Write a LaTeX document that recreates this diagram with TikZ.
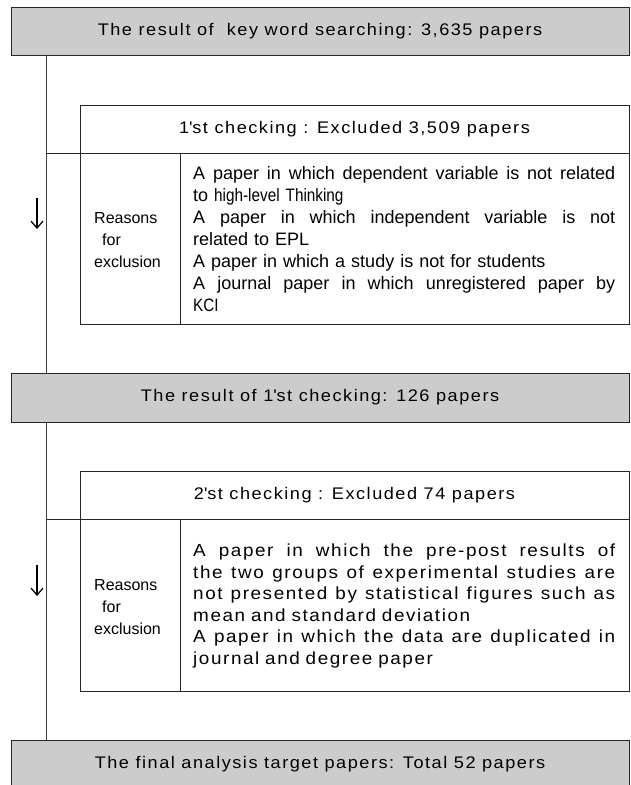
\documentclass[tikz,border=0pt]{standalone}
\usepackage{fontspec}
\setmainfont{Liberation Sans}
\newfontfamily\gulf[FakeStretch=1.08,LetterSpace=9]{Liberation Sans}
\newfontfamily\narf[FakeStretch=0.85]{Liberation Sans}
\usetikzlibrary{arrows.meta}
\tikzset{
 grayrow/.style={draw=black!85, fill=black!20, line width=1pt, minimum width=618pt, minimum height=48pt, inner sep=0pt, font=\gulf\fontsize{16.8}{19}\selectfont},
 tablebox/.style={draw=black!85, line width=1pt, minimum width=549pt, inner sep=0pt},
 rule/.style={draw=black!85, line width=1pt},
 flowline/.style={draw=black!75, line width=1pt},
 downarrow/.style={draw=black, line width=1.2pt, -{Straight Barb[length=7pt,width=12pt]}},
 headtext/.style={font=\gulf\fontsize{16.8}{19}\selectfont, inner sep=0pt},
 reasontext/.style={font=\fontsize{16}{22}\selectfont, align=left, inner sep=0pt},
 bodyone/.style={font=\fontsize{18}{22}\selectfont, align=left, text width=422pt, inner sep=0pt},
 bodytwo/.style={font=\gulf\fontsize{17.5}{21.5}\selectfont, align=left, text width=422pt, inner sep=0pt},
}
\newcommand{\jline}[1]{\leavevmode\hbox to 422pt{\spaceskip=\fontdimen2\font plus 1fil\relax #1}}
\begin{document}
\begin{tikzpicture}[x=1pt,y=-1pt]
\useasboundingbox (0,0) rectangle (630,785);
\clip (0,0) rectangle (630,785);
\coordinate (vx) at (46,0);
% gray result rows
\node[grayrow] (g1) at (320,31) {The result of \ key word searching: 3,635 papers};
\node[grayrow, minimum height=49pt] (g2) at (320,397.5) {The result of 1\textquotesingle st checking: 126 papers};
\node[grayrow] (g3) at (320,764) {The final analysis target papers: Total 52 papers};
% first checking table
\node[tablebox, minimum height=219pt] (w1) at (354.5,214.5) {};
\coordinate (h1) at (46,153);
\coordinate (d1) at (180,153);
\draw[rule] (h1) -- (h1 -| w1.east);
\draw[rule] (d1) -- (d1 |- w1.south);
\node[headtext] (t1) at (354.5,129) {1\textquotesingle st checking : Excluded 3,509 papers};
\node[reasontext, anchor=west] (r1) at (94,240) {Reasons\\\hspace*{8pt}for\\exclusion};
\node[bodyone, anchor=west] (b1) at (193,239) {%
\jline{A paper in which dependent variable is not related}\\
to {\narf high-level Thinking}\\
\jline{A paper in which independent variable is not}\\
related to EPL\\
A paper in which a study is not for students\\
\jline{A journal paper in which unregistered paper by}\\
{\narf KCI}};
% second checking table
\node[tablebox, minimum height=220pt] (w2) at (354.5,581) {};
\coordinate (h2) at (46,519);
\coordinate (d2) at (180,519);
\draw[rule] (h2) -- (h2 -| w2.east);
\draw[rule] (d2) -- (d2 |- w2.south);
\node[headtext] (t2) at (354.5,495) {2\textquotesingle st checking : Excluded 74 papers};
\node[reasontext, anchor=west] (r2) at (94,607) {Reasons\\\hspace*{8pt}for\\exclusion};
\node[bodytwo, anchor=west] (b2) at (193,606) {%
\jline{A paper in which the pre-post results of}\\
\jline{the two groups of experimental studies are}\\
\jline{not presented by statistical figures such as}\\
mean and standard deviation\\
\jline{A paper in which the data are duplicated in}\\
journal and degree paper};
% flow line and arrows
\draw[flowline] (g1.south -| vx) -- (g2.north -| vx);
\draw[flowline] (g2.south -| vx) -- (g3.north -| vx);
\coordinate (a1s) at (37,198);
\coordinate (a1e) at (37,229);
\coordinate (a2s) at (37,565);
\coordinate (a2e) at (37,596);
\draw[downarrow] (a1s) -- (a1e);
\draw[downarrow] (a2s) -- (a2e);
\end{tikzpicture}
\end{document}
